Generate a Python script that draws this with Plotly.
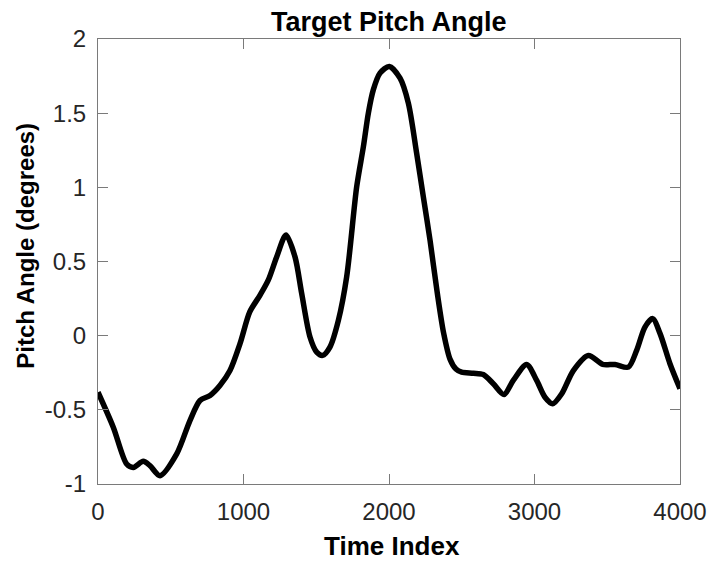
import plotly.graph_objects as go

# Target pitch angle trace (degrees) against sample index
time_index = [0, 105, 197, 243, 311, 357, 426, 541, 632, 701, 770, 838, 907, 976,
              1043, 1113, 1170, 1228, 1292, 1354, 1400, 1457, 1503, 1544, 1594, 1652,
              1709, 1778, 1824, 1858, 1892, 1938, 2002, 2076, 2133, 2190, 2236, 2282,
              2330, 2375, 2420, 2460, 2499, 2580, 2648, 2717, 2790, 2854, 2946, 3015,
              3072, 3125, 3187, 3267, 3370, 3469, 3553, 3645, 3702, 3759, 3812, 3863,
              3931, 4000]
pitch_angle = [-0.381, -0.617, -0.865, -0.888, -0.847, -0.876, -0.944, -0.797, -0.572,
               -0.437, -0.403, -0.336, -0.235, -0.054, 0.160, 0.272, 0.374, 0.531, 0.678,
               0.531, 0.284, -0.009, -0.111, -0.133, -0.077, 0.103, 0.396, 1.004, 1.274,
               1.500, 1.657, 1.770, 1.815, 1.736, 1.568, 1.230, 0.936, 0.644, 0.300,
               0.020, -0.160, -0.225, -0.246, -0.253, -0.262, -0.324, -0.397, -0.302,
               -0.194, -0.302, -0.415, -0.459, -0.392, -0.235, -0.133, -0.194, -0.194,
               -0.212, -0.099, 0.058, 0.115, 0.014, -0.189, -0.358]

x_ticks = [0, 1000, 2000, 3000, 4000]
x_tick_text = ["0", "1000", "2000", "3000", "4000"]
y_ticks = [-1, -0.5, 0, 0.5, 1, 1.5, 2]
y_tick_text = ["-1", "-0.5", "0", "0.5", "1", "1.5", "2"]

font_family = "Liberation Sans, Arial, sans-serif"
axis_color = "#7a7a7a"
label_color = "#262626"

fig = go.Figure()
fig.add_trace(go.Scatter(
    x=time_index, y=pitch_angle, mode="lines",
    line=dict(color="black", width=5.5, shape="spline", smoothing=0.8),
    showlegend=False, hoverinfo="x+y",
))

axis_common = dict(
    showgrid=False, zeroline=False, showline=True, linecolor=axis_color,
    linewidth=1, mirror="ticks", ticks="inside", ticklen=10, tickwidth=1,
    tickcolor=axis_color, automargin=False,
    tickfont=dict(family=font_family, size=24, color=label_color),
)

fig.update_layout(
    width=711, height=563,
    margin=dict(l=98, r=31, t=39, b=79),
    paper_bgcolor="white", plot_bgcolor="white",
    xaxis=dict(range=[0, 4000], tickvals=x_ticks, ticktext=x_tick_text,
               ticklabelstandoff=6, **axis_common),
    yaxis=dict(range=[-1, 2], tickvals=y_ticks, ticktext=y_tick_text,
               ticklabelstandoff=6, **axis_common),
)

# Title and axis labels
fig.add_annotation(text="<b>Target Pitch Angle</b>", xref="paper", yref="paper",
                   x=0.5, y=1.038, xanchor="center", yanchor="middle",
                   showarrow=False,
                   font=dict(family=font_family, size=27, color="black"))
fig.add_annotation(text="<b>Time Index</b>", xref="paper", yref="paper",
                   x=0.505, y=-0.139, xanchor="center", yanchor="middle",
                   showarrow=False,
                   font=dict(family=font_family, size=26, color="black"))
fig.add_annotation(text="<b>Pitch Angle (degrees)</b>", xref="paper", yref="paper",
                   x=-0.124, y=0.535, xanchor="center", yanchor="middle",
                   textangle=-90, showarrow=False,
                   font=dict(family=font_family, size=24, color="black"))

fig.write_html("out.html")
